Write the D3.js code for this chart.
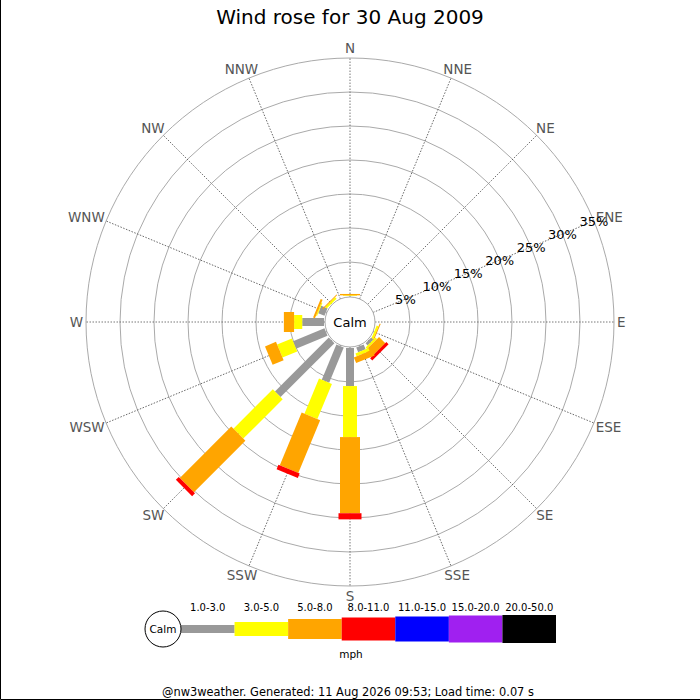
<!DOCTYPE html>
<html>
<head>
<meta charset="utf-8">
<script src="https://cdn.jsdelivr.net/npm/d3@7"></script>
<style>
body { margin: 0; background: #fff; }
svg { display: block; font-family: "DejaVu Sans", sans-serif; }
</style>
</head>
<body>
<script>
// directions, clockwise from north
var dirs = ["N", "NNE", "NE", "ENE", "E", "ESE", "SE", "SSE",
            "S", "SSW", "SW", "WSW", "W", "WNW", "NW", "NNW"];
var speedBins = ["1.0-3.0", "3.0-5.0", "5.0-8.0", "8.0-11.0", "11.0-15.0", "15.0-20.0", "20.0-50.0"];
var binColors = ["#999999", "#ffff00", "#ffa500", "#ff0000", "#0000ff", "#a020f0", "#000000"];
// percent of time per direction, one array per speed bin
var bin1 = [0, 0, 0, 0, 0, 0, 0.45, 0.75, 5.6, 5.6, 11.2, 5.0, 3.2, 1.0, 0, 0];
var bin2 = [0.1, 0, 0, 0, 0, 0.3, 0.3, 0.45, 7.5, 5.6, 8.2, 2.35, 1.2, 0.15, 0.3, 0];
var bin3 = [0.2, 0, 0, 0, 0, 0.15, 1.3, 0.9, 11.2, 8.4, 10.7, 1.75, 1.5, 0.3, 0.15, 0];
var bin4 = [0, 0, 0, 0, 0, 0, 0.45, 0, 0.9, 0.7, 0.6, 0, 0, 0, 0, 0];
var bin5 = [0, 0, 0, 0, 0, 0, 0, 0, 0, 0, 0, 0, 0, 0, 0, 0];
var bin6 = [0, 0, 0, 0, 0, 0, 0, 0, 0, 0, 0, 0, 0, 0, 0, 0];
var bin7 = [0, 0, 0, 0, 0, 0, 0, 0, 0, 0, 0, 0, 0, 0, 0, 0];
var bins = [bin1, bin2, bin3, bin4, bin5, bin6, bin7];
var ringTicks = [5, 10, 15, 20, 25, 30, 35];
var ringLabels = ["5%", "10%", "15%", "20%", "25%", "30%", "35%"];
var title = "Wind rose for 30 Aug 2009";
var footer = "@nw3weather. Generated: 11 Aug 2026 09:53; Load time: 0.07 s";

var W = 700, H = 700, cx = 350, cy = 322;
var calmR = 25;
var barW = [8, 14, 20, 23, 25, 27, 28];

var svg = d3.select("body").append("svg")
    .attr("width", W).attr("height", H);

var r = d3.scaleLinear().domain([0, 35]).range([26, 264]);
var ang = d3.scaleLinear().domain([0, dirs.length]).range([0, 360]);

svg.append("text")
    .attr("x", cx).attr("y", 24)
    .attr("text-anchor", "middle")
    .attr("font-size", 20)
    .attr("fill", "#000")
    .text(title);

var rose = svg.append("g").attr("transform", "translate(" + cx + "," + cy + ")");

rose.selectAll("circle.ring")
    .data(ringTicks)
    .enter().append("circle")
    .attr("class", "ring")
    .attr("r", function (d) { return r(d); })
    .attr("fill", "none")
    .attr("stroke", "#aaaaaa")
    .attr("stroke-width", 1);

rose.selectAll("line.spoke")
    .data(dirs)
    .enter().append("line")
    .attr("class", "spoke")
    .attr("transform", function (d, i) { return "rotate(" + ang(i) + ")"; })
    .attr("x1", 0).attr("y1", -calmR)
    .attr("x2", 0).attr("y2", -r(35))
    .attr("stroke", "#555")
    .attr("stroke-width", 0.8)
    .attr("stroke-dasharray", "1.5,1.5");

// stacked bars
dirs.forEach(function (d, i) {
    var g = rose.append("g").attr("transform", "rotate(" + ang(i) + ")");
    var cum = 0;
    bins.forEach(function (b, j) {
        var v = b[i];
        if (v <= 0) return;
        var r0 = r(cum), r1 = r(cum + v);
        g.append("rect")
            .attr("x", -barW[j] / 2)
            .attr("y", -r1)
            .attr("width", barW[j])
            .attr("height", r1 - r0)
            .attr("fill", binColors[j]);
        cum += v;
    });
});

rose.append("circle")
    .attr("r", calmR)
    .attr("fill", "#fff")
    .attr("stroke", "#aaaaaa");
rose.append("text")
    .attr("text-anchor", "middle")
    .attr("dy", "0.35em")
    .attr("font-size", 13)
    .text("Calm");

// direction labels, pushed out by half their box so they clear the outer ring
var labR = 267;
rose.selectAll("text.dir")
    .data(dirs)
    .enter().append("text")
    .attr("class", "dir")
    .attr("dy", "0.35em")
    .attr("text-anchor", "middle")
    .attr("font-size", 13.5)
    .attr("fill", "#555")
    .text(function (d) { return d; })
    .each(function (d, i) {
        var a = ang(i) * Math.PI / 180;
        var w = this.getComputedTextLength();
        d3.select(this)
            .attr("x", (labR + w / 2) * Math.sin(a))
            .attr("y", -(labR + 7) * Math.cos(a));
    });

// percentage labels along ENE
var la = ang(3) * Math.PI / 180;
rose.selectAll("text.pct")
    .data(ringTicks)
    .enter().append("text")
    .attr("class", "pct")
    .attr("x", function (d) { return r(d) * Math.sin(la); })
    .attr("y", function (d) { return -r(d) * Math.cos(la); })
    .attr("dy", "0.35em")
    .attr("text-anchor", "middle")
    .attr("font-size", 13)
    .attr("fill", "#000")
    .text(function (d, i) { return ringLabels[i]; });

// legend
var lx = d3.scaleLinear().domain([0, speedBins.length]).range([181, 556]);
var ly = 629;
var leg = svg.append("g");
leg.selectAll("rect")
    .data(speedBins)
    .enter().append("rect")
    .attr("x", function (d, i) { return lx(i); })
    .attr("y", function (d, i) { return ly - barW[i] / 2; })
    .attr("width", lx(1) - lx(0))
    .attr("height", function (d, i) { return barW[i]; })
    .attr("fill", function (d, i) { return binColors[i]; });
leg.selectAll("text.bin")
    .data(speedBins)
    .enter().append("text")
    .attr("class", "bin")
    .attr("x", function (d, i) { return (lx(i) + lx(i + 1)) / 2; })
    .attr("y", 611)
    .attr("text-anchor", "middle")
    .attr("font-size", 10)
    .text(function (d) { return d; });
leg.append("circle")
    .attr("cx", 163).attr("cy", ly).attr("r", 18)
    .attr("fill", "#fff").attr("stroke", "#000");
leg.append("text")
    .attr("x", 163).attr("y", ly).attr("dy", "0.35em")
    .attr("text-anchor", "middle")
    .attr("font-size", 10.5)
    .text("Calm");
leg.append("text")
    .attr("x", 351).attr("y", 658)
    .attr("text-anchor", "middle")
    .attr("font-size", 10.5)
    .text("mph");

svg.append("text")
    .attr("x", 348).attr("y", 696)
    .attr("text-anchor", "middle")
    .attr("font-size", 11.4)
    .text(footer);

svg.append("path")
    .attr("d", "M0.5,0 L0.5,699.5 L700,699.5")
    .attr("fill", "none")
    .attr("stroke", "#000");
</script>
</body>
</html>
